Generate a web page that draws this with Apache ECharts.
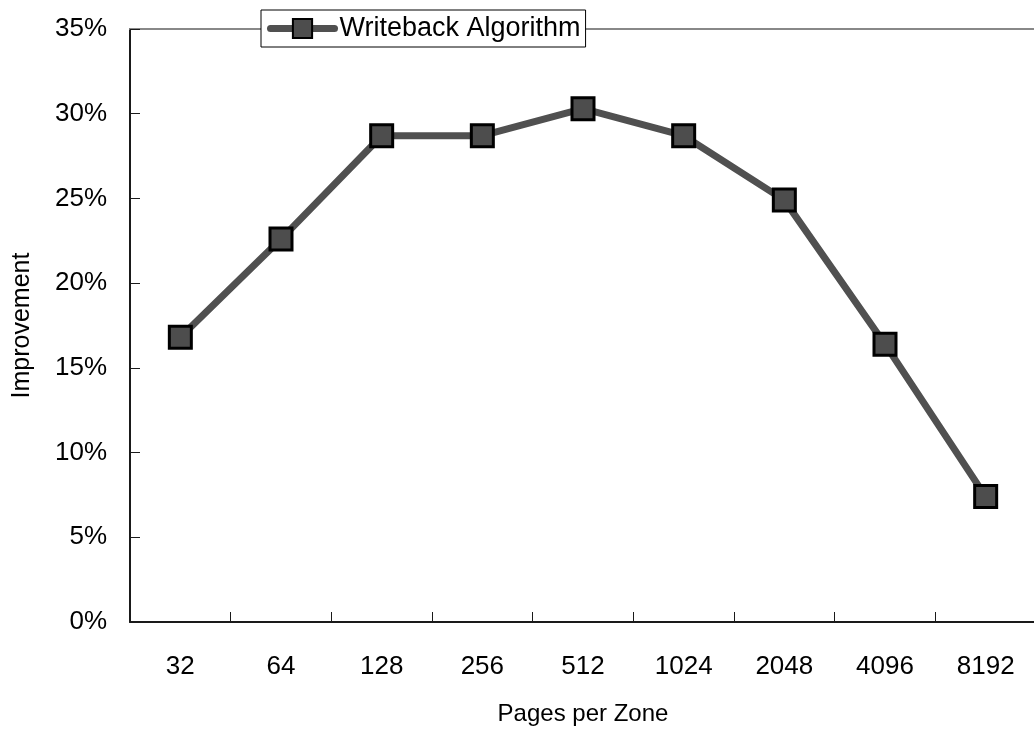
<!DOCTYPE html>
<html>
<head>
<meta charset="utf-8">
<script src="https://cdn.jsdelivr.net/npm/echarts@6/dist/echarts.min.js"></script>
<style>
  html, body { margin: 0; padding: 0; background: #fff; }
  #chart { width: 1034px; height: 740px; }
</style>
</head>
<body>
<div id="chart"></div>
<script>
// Pages per zone tested
const categories = ['32', '64', '128', '256', '512', '1024', '2048', '4096', '8192'];
// Improvement of the writeback algorithm, in percent
const improvement = [16.8, 22.6, 28.7, 28.7, 30.3, 28.7, 24.9, 16.4, 7.4];
const seriesName = 'Writeback Algorithm';
const xTitle = 'Pages per Zone';
const yTitle = 'Improvement';

const font = "'Liberation Sans', Arial, sans-serif";
const chart = echarts.init(document.getElementById('chart'), null, { renderer: 'canvas' });

chart.setOption({
  animation: false,
  backgroundColor: '#ffffff',
  textStyle: { fontFamily: font },
  grid: { left: 130, right: -2, top: 29, bottom: 118, containLabel: false, outerBoundsMode: 'none' },
  legend: {
    data: [seriesName],
    left: 261,
    top: 10,
    padding: [5, 5, 5, 6],
    itemWidth: 64,
    itemHeight: 24,
    itemGap: 5,
    backgroundColor: '#ffffff',
    borderColor: '#000000',
    borderWidth: 1,
    borderRadius: 0,
    lineStyle: { width: 7, color: '#505050', cap: 'round' },
    textStyle: { fontFamily: font, fontSize: 27, color: '#000' }
  },
  xAxis: [
    {
      type: 'category',
      data: categories,
      boundaryGap: true,
      name: xTitle,
      nameLocation: 'middle',
      nameGap: 80,
      nameTextStyle: { fontFamily: font, fontSize: 24, color: '#000' },
      axisLine: { lineStyle: { color: '#1a1a1a', width: 2 } },
      axisTick: { show: true, interval: 0, inside: true, length: 10, lineStyle: { color: '#1a1a1a', width: 1 } },
      axisLabel: { fontFamily: font, fontSize: 26, color: '#000', margin: 32, interval: 0 },
      splitLine: { show: false }
    },
    {
      type: 'category',
      data: categories,
      position: 'top',
      axisLine: { lineStyle: { color: '#888888', width: 2 } },
      axisTick: { show: false },
      axisLabel: { show: false },
      splitLine: { show: false }
    }
  ],
  yAxis: {
    type: 'value',
    min: 0,
    max: 35,
    interval: 5,
    name: yTitle,
    nameLocation: 'middle',
    nameGap: 95,
    nameRotate: 90,
    nameTextStyle: { fontFamily: font, fontSize: 25, color: '#000' },
    axisLine: { show: true, lineStyle: { color: '#1a1a1a', width: 2 } },
    axisTick: { show: true, inside: true, length: 10, lineStyle: { color: '#1a1a1a', width: 1 } },
    axisLabel: { fontFamily: font, fontSize: 26, color: '#000', margin: 23, formatter: '{value}%' },
    splitLine: { show: false }
  },
  series: [
    {
      name: seriesName,
      type: 'line',
      data: improvement,
      symbol: 'rect',
      symbolSize: 22,
      lineStyle: { color: '#505050', width: 7 },
      itemStyle: { color: '#4d4d4d', borderColor: '#000000', borderWidth: 3 },
      z: 3
    }
  ]
});
</script>
</body>
</html>
